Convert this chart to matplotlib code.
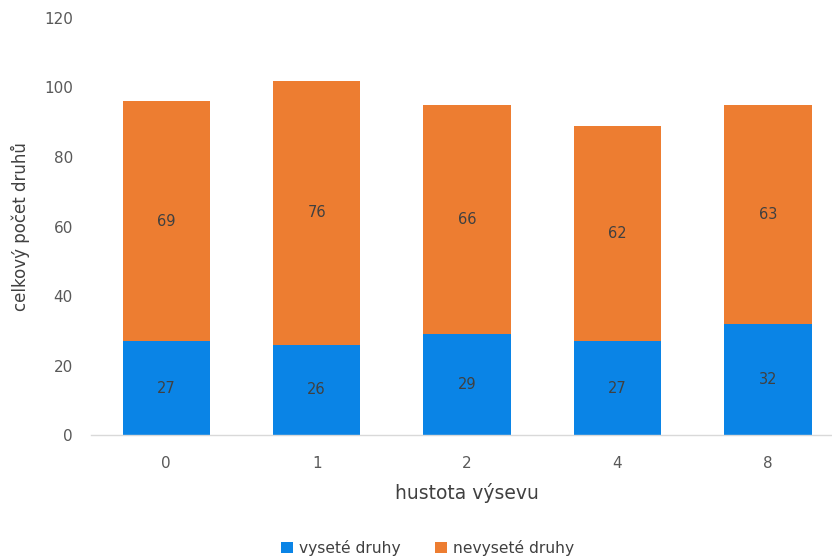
import matplotlib
matplotlib.use("Agg")
import matplotlib.pyplot as plt
import numpy as np

plt.rcParams['font.family'] = ['DejaVu Sans']

categories = ["0", "1", "2", "4", "8"]
vysete = [27, 26, 29, 27, 32]
nevysete = [69, 76, 66, 62, 63]
yticks = [0, 20, 40, 60, 80, 100, 120]

blue = "#0A84E6"
orange = "#ED7D31"
tick_col = "#595959"
text_col = "#404040"

fig = plt.figure(figsize=(8.32, 5.57), dpi=100)
# the category axis runs a little past the right edge of the canvas
ax = fig.add_axes([0.1094, 0.219, 0.904, 0.7487])

x = np.arange(len(categories))
w = 0.58
b1 = ax.bar(x, vysete, width=w, color=blue, label="vyseté druhy")
b2 = ax.bar(x, nevysete, width=w, bottom=vysete, color=orange, label="nevyseté druhy")

for xi, v1, v2 in zip(x, vysete, nevysete):
    ax.text(xi, v1 / 2, str(v1), ha="center", va="center", fontsize=10.5, color=text_col)
    ax.text(xi, v1 + v2 / 2, str(v2), ha="center", va="center", fontsize=10.5, color=text_col)

ax.set_ylim(0, 120)
ax.set_xlim(-0.5, len(categories) - 0.5)
ax.set_yticks(yticks)
ax.set_xticks(x)
ax.set_xticklabels(categories)
ax.tick_params(axis="both", length=0, colors=tick_col, labelsize=11)
ax.tick_params(axis="y", pad=13)
ax.tick_params(axis="x", pad=15)

for side in ["top", "right", "left"]:
    ax.spines[side].set_visible(False)
ax.spines["bottom"].set_color("#D9D9D9")
ax.spines["bottom"].set_linewidth(1)

ax.set_xlabel("hustota výsevu", fontsize=13.5, color=text_col, labelpad=9)
ax.set_ylabel("celkový počet druhů", fontsize=12, color=text_col, labelpad=10)

fig.legend(handles=[b1, b2], loc="center", bbox_to_anchor=(0.514, 0.016), ncol=2,
           frameon=False, fontsize=11.2, labelcolor=text_col, handlelength=0.75,
           handleheight=0.75, handletextpad=0.4, columnspacing=2.2)

fig.savefig("out.png", dpi=100)
